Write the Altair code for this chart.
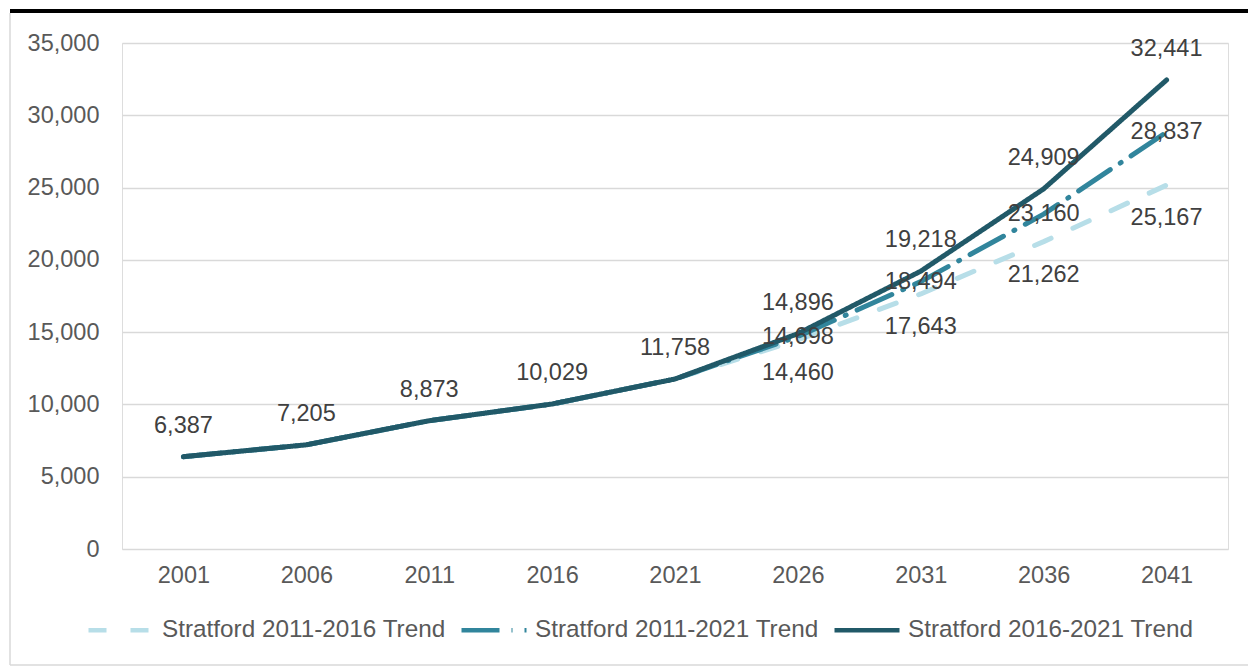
import altair as alt
import pandas as pd

years = [2001, 2006, 2011, 2016, 2021, 2026, 2031, 2036, 2041]
trend_2011_2016 = [6387, 7205, 8873, 10029, 11758, 14460, 17643, 21262, 25167]
trend_2011_2021 = [6387, 7205, 8873, 10029, 11758, 14698, 18494, 23160, 28837]
trend_2016_2021 = [6387, 7205, 8873, 10029, 11758, 14896, 19218, 24909, 32441]
series_names = ["Stratford 2011-2016 Trend", "Stratford 2011-2021 Trend", "Stratford 2016-2021 Trend"]
series_colors = ["#B7DEE8", "#31859C", "#215968"]
series_dashes = [[18, 24], [38, 12, 1, 12], [1, 0]]
y_ticks = [0, 5000, 10000, 15000, 20000, 25000, 30000, 35000]
forecast_years = [2026, 2031, 2036, 2041]

rows = []
for name, vals in zip(series_names, [trend_2011_2016, trend_2011_2021, trend_2016_2021]):
    for yr, v in zip(years, vals):
        rows.append({"series": name, "year": yr, "value": v})
df = pd.DataFrame(rows)

# label groups: dark series above (all years), medium centred (forecast), light below (forecast)
lab_above = df[df.series == series_names[2]]
lab_center = df[(df.series == series_names[1]) & (df.year.isin(forecast_years))]
lab_below = df[(df.series == series_names[0]) & (df.year.isin(forecast_years))]

FONT = "Liberation Sans"
FS = 23.5

x_enc = alt.X("year:O", axis=alt.Axis(title=None, labelAngle=0, domain=False, ticks=False,
                                      tickSize=0, labelPadding=14, labelFontSize=FS,
                                      labelColor="#595959", labelFont=FONT, grid=False))
y_enc = alt.Y("value:Q", scale=alt.Scale(domain=[0, 35000], nice=False),
              axis=alt.Axis(title=None, values=y_ticks, format=",.0f", domain=False, ticks=False,
                            tickSize=0, labelPadding=23, labelFontSize=FS, labelColor="#595959",
                            labelFont=FONT, gridColor="#D9D9D9", gridWidth=1.4))

legend = alt.Legend(title=None, orient="none", legendX=-36, legendY=552, direction="horizontal",
                    symbolType="stroke", symbolSize=4225, symbolStrokeWidth=4.5,
                    labelFont=FONT, labelFontSize=24.3, labelColor="#595959", labelOffset=6,
                    columnPadding=6, labelLimit=500)

lines = alt.Chart(df).mark_line(strokeWidth=5, strokeCap="round", strokeJoin="round").encode(
    x=x_enc,
    y=y_enc,
    color=alt.Color("series:N", scale=alt.Scale(domain=series_names, range=series_colors), legend=legend),
    strokeDash=alt.StrokeDash("series:N", scale=alt.Scale(domain=series_names, range=series_dashes), legend=legend),
    order=alt.Order("year:O"),
)

def labels(data, dy):
    return alt.Chart(data).mark_text(font=FONT, fontSize=FS, color="#404040", dy=dy,
                                     baseline="middle", align="center").encode(
        x="year:O", y="value:Q", text=alt.Text("value:Q", format=","))

deco = alt.Data(values=[{"k": 1}])
top_bar = alt.Chart(deco).mark_rule(color="#000000", strokeWidth=4).encode(
    x=alt.value(-112), x2=alt.value(1140), y=alt.value(-32))
left_border = alt.Chart(deco).mark_rule(color="#D9D9D9", strokeWidth=1.5).encode(
    x=alt.value(-112), y=alt.value(-30), y2=alt.value(622))
bottom_border = alt.Chart(deco).mark_rule(color="#D9D9D9", strokeWidth=1.5).encode(
    x=alt.value(-112), x2=alt.value(1140), y=alt.value(622))

chart = alt.layer(
    lines, labels(lab_above, -31), labels(lab_center, 0), labels(lab_below, 33),
    top_bar, left_border, bottom_border,
).properties(
    width=1106, height=506,
    padding={"left": 122, "top": 43, "right": 20, "bottom": 118},
    autosize=alt.AutoSizeParams(type="none"),
).configure_view(stroke=None).configure(font=FONT)

chart.save("out.html", embed_options={"renderer": "svg", "actions": False})
